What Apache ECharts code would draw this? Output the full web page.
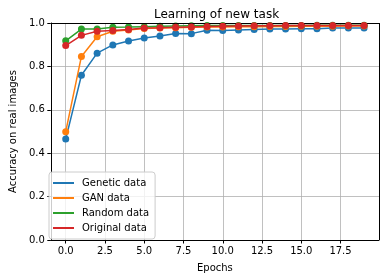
<!DOCTYPE html>
<html><head><meta charset="utf-8">
<script src="https://cdn.jsdelivr.net/npm/echarts@6/dist/echarts.min.js"></script>
<style>html,body{margin:0;padding:0;background:#fff}#c{width:386px;height:278px}</style>
</head><body><div id="c"></div>
<script>
const epochs = [0,1,2,3,4,5,6,7,8,9,10,11,12,13,14,15,16,17,18,19];
const geneticData = [0.465,0.759,0.861,0.899,0.917,0.931,0.940,0.952,0.951,0.967,0.965,0.968,0.970,0.972,0.972,0.973,0.973,0.977,0.977,0.977];
const ganData = [0.499,0.846,0.937,0.962,0.968,0.975,0.977,0.978,0.980,0.981,0.982,0.983,0.983,0.984,0.984,0.985,0.985,0.985,0.986,0.986];
const randomData = [0.918,0.972,0.972,0.980,0.981,0.983,0.985,0.986,0.987,0.988,0.988,0.988,0.989,0.989,0.989,0.989,0.990,0.990,0.990,0.990];
const originalData = [0.896,0.943,0.962,0.966,0.970,0.977,0.978,0.980,0.982,0.984,0.985,0.986,0.987,0.987,0.988,0.988,0.988,0.988,0.988,0.988];
const xTicks = [0,2.5,5,7.5,10,12.5,15,17.5];
const seriesNames = ['Genetic data','GAN data','Random data','Original data'];
const colors = ['#1f77b4','#ff7f0e','#2ca02c','#d62728'];

const font = 'DejaVu Sans';
const chart = echarts.init(document.getElementById('c'), null, {renderer:'canvas'});
const allData = [geneticData, ganData, randomData, originalData];
const series = allData.map((d,i)=>({
  name: seriesNames[i], type:'line', data: epochs.map((e,j)=>[e,d[j]]),
  symbol:'circle', symbolSize:7, showSymbol:true,
  lineStyle:{width:1.5,color:colors[i]}, itemStyle:{color:colors[i]},
  emphasis:{disabled:true}, animation:false, z: 2+i
}));
chart.setOption({
  animation:false,
  title:{text:'Learning of new task', left:211.5, textAlign:'center', top:4,
    textStyle:{fontFamily:font,fontSize:12,fontWeight:'normal',color:'#000'}},
  grid:{left:44,right:7,top:23,bottom:38,containLabel:false},
  legend:{data:seriesNames, orient:'vertical', left:49, top:172, icon:'rect', itemWidth:21, itemHeight:2,
    itemGap:5, padding:[6,6,6,4], backgroundColor:'rgba(255,255,255,0.8)', borderColor:'#ccc', borderWidth:1, borderRadius:3,
    textStyle:{fontFamily:font,fontSize:10,color:'#000',padding:[0,0,0,3]}},
  xAxis:{type:'value', min:-0.95, max:19.95, name:'Epochs', nameLocation:'middle', nameGap:23,
    nameTextStyle:{fontFamily:font,fontSize:10,color:'#000'},
    axisLine:{onZero:false,lineStyle:{color:'#000',width:1}},
    axisTick:{show:true,length:3.5,inside:false,customValues:xTicks,lineStyle:{color:'#000'}},
    axisLabel:{customValues:xTicks,fontFamily:font,fontSize:10,color:'#000',margin:6,showMinLabel:true,showMaxLabel:true,
      formatter:v=>v.toFixed(1)},
    splitLine:{show:true,customValues:xTicks,lineStyle:{color:'#b0b0b0',width:0.8}}},
  yAxis:{type:'value', min:0, max:1, interval:0.2, name:'Accuracy on real images', nameLocation:'middle', nameGap:31,
    nameTextStyle:{fontFamily:font,fontSize:10,color:'#000'},
    axisLine:{show:true,onZero:false,lineStyle:{color:'#000',width:1}},
    axisTick:{show:true,length:3.5,lineStyle:{color:'#000'}},
    axisLabel:{fontFamily:font,fontSize:10,color:'#000',margin:6,formatter:v=>v.toFixed(1)},
    splitLine:{show:true,lineStyle:{color:'#b0b0b0',width:0.8}}},
  series: series.concat([{
    type:'line', data:[], silent:true,
    markLine:{silent:true, symbol:'none', label:{show:false}, lineStyle:{color:'#000',width:1,type:'solid'},
      data:[[{coord:[19.95,0]},{coord:[19.95,1]}],[{coord:[-0.95,1]},{coord:[19.95,1]}]]}
  }])
});
</script></body></html>
